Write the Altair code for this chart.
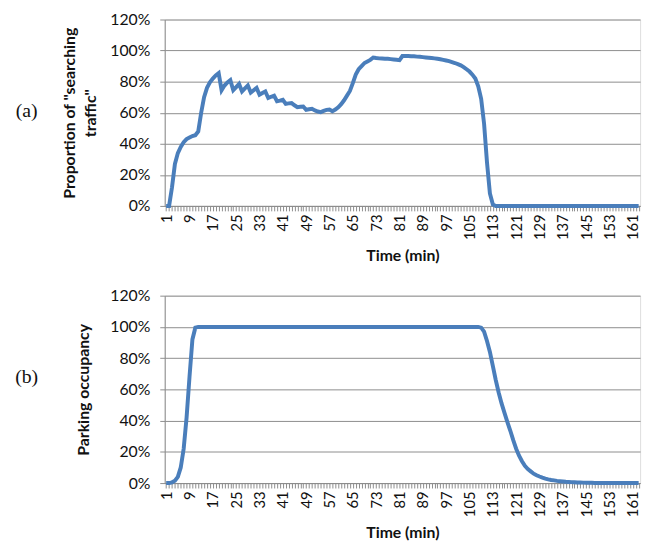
import altair as alt
import pandas as pd

minutes = list(range(1, 164))

# Proportion of "searching traffic" (%), minutes 1..163
searching = [
    0, 0, 12, 27, 34, 38, 41, 43, 44, 45,
    45.5, 48, 60, 70, 76, 79.5, 82, 84, 85.5, 74.5,
    77.5, 79.5, 81, 74.5, 76.5, 78.5, 73.7, 75.7, 77.5, 73,
    74.5, 76, 71.6, 72.7, 73.7, 69.5, 70.3, 71, 67.4, 67.8,
    68.3, 65.7, 66, 66.2, 64.8, 63.6, 63.8, 64, 61.9, 62.2,
    62.5, 61.5, 60.8, 60.4, 61.2, 61.8, 62.1, 61, 62, 63.5,
    65.5, 68, 71, 74, 79, 84.5, 88, 90, 92, 93,
    94, 95.5, 95.2, 95, 94.9, 94.8, 94.7, 94.5, 94.3, 94.1,
    93.8, 96.5, 96.6, 96.5, 96.4, 96.3, 96.1, 96, 95.8, 95.6,
    95.4, 95.2, 95, 94.7, 94.4, 94, 93.6, 93.2, 92.6, 92,
    91.3, 90.5, 89.4, 88, 86.5, 84.5, 82, 77, 69, 53,
    28, 8, 1, 0, 0, 0, 0, 0, 0, 0,
    0, 0, 0, 0, 0, 0, 0, 0, 0, 0,
    0, 0, 0, 0, 0, 0, 0, 0, 0, 0,
    0, 0, 0, 0, 0, 0, 0, 0, 0, 0,
    0, 0, 0, 0, 0, 0, 0, 0, 0, 0,
    0, 0, 0,
]

# Parking occupancy (%), minutes 1..163
occupancy = [
    0, 0, 0.5, 1.5, 4, 10, 22, 42, 68, 92,
    99.5, 100, 100, 100, 100, 100, 100, 100, 100, 100,
    100, 100, 100, 100, 100, 100, 100, 100, 100, 100,
    100, 100, 100, 100, 100, 100, 100, 100, 100, 100,
    100, 100, 100, 100, 100, 100, 100, 100, 100, 100,
    100, 100, 100, 100, 100, 100, 100, 100, 100, 100,
    100, 100, 100, 100, 100, 100, 100, 100, 100, 100,
    100, 100, 100, 100, 100, 100, 100, 100, 100, 100,
    100, 100, 100, 100, 100, 100, 100, 100, 100, 100,
    100, 100, 100, 100, 100, 100, 100, 100, 100, 100,
    100, 100, 100, 100, 100, 100, 100, 100, 99.5, 97,
    91, 84, 75, 66, 58, 51, 45, 39, 33.5, 27.5,
    22, 17.5, 14, 11, 9, 7.5, 6, 5, 4.2, 3.5,
    2.9, 2.4, 2, 1.7, 1.4, 1.2, 1, 0.8, 0.7, 0.6,
    0.5, 0.4, 0.35, 0.3, 0.25, 0.2, 0.15, 0.1, 0.1, 0.05,
    0, 0, 0, 0, 0, 0, 0, 0, 0, 0,
    0, 0, 0,
]

y_ticks = [0, 20, 40, 60, 80, 100, 120]
x_title = "Time (min)"
top_title = ["Proportion of \"searching", "traffic\""]
bottom_title = "Parking occupancy"

df = pd.DataFrame({"minute": minutes, "searching": searching, "occupancy": occupancy})

GRID = "#8c8c8c"
BLUE = "#4A7EBB"
FONT = "Lato"


def panel(field, ytitle, tag, tag_y, height, title_pad):
    line = alt.Chart(df).mark_line(color=BLUE, strokeWidth=4).encode(
        x=alt.X(
            "minute:O",
            title=x_title,
            scale=alt.Scale(type="point", padding=0.5),
            axis=alt.Axis(
                labelExpr="(datum.value - 1) % 8 == 0 ? datum.label : ''",
                labelAngle=270,
                labelOverlap=False,
                labelFont=FONT,
                labelFontSize=15,
                labelColor="#111111",
                labelPadding=3,
                tickColor=GRID,
                tickSize=5,
                domainColor=GRID,
                grid=False,
                titleFont=FONT,
                titleFontSize=16,
                titleFontWeight="bold",
                titleColor="#111111",
                titlePadding=8,
            ),
        ),
        y=alt.Y(
            f"{field}:Q",
            title=ytitle,
            scale=alt.Scale(domain=[0, 120]),
            axis=alt.Axis(
                values=y_ticks,
                labelExpr="datum.value + '%'",
                labelFont=FONT,
                labelFontSize=16,
                labelColor="#111111",
                labelPadding=10,
                tickColor=GRID,
                tickSize=5,
                domainColor=GRID,
                gridColor=GRID,
                gridOpacity=1,
                titleFont=FONT,
                titleFontSize=16,
                titleFontWeight="bold",
                titleColor="#111111",
                titlePadding=title_pad,
                titleLineHeight=22,
            ),
        ),
    )
    label = alt.Chart(pd.DataFrame({"t": [tag]})).mark_text(
        font="Liberation Serif", fontSize=20, align="center", baseline="middle", color="#111111"
    ).encode(x=alt.value(-140), y=alt.value(tag_y), text="t:N")
    return alt.layer(line, label).properties(width=482, height=height)


top = panel("searching", top_title, "(a)", 93, 189, 11)
bottom = panel("occupancy", bottom_title, "(b)", 83, 190, 19)

chart = (
    alt.vconcat(top, bottom, spacing=23)
    .properties(padding={"left": 14, "top": 7, "right": 0, "bottom": 0})
    .configure_view(stroke=None)
    .configure(background="white")
)

chart.save("out.html", embed_options={"renderer": "svg", "actions": False})
